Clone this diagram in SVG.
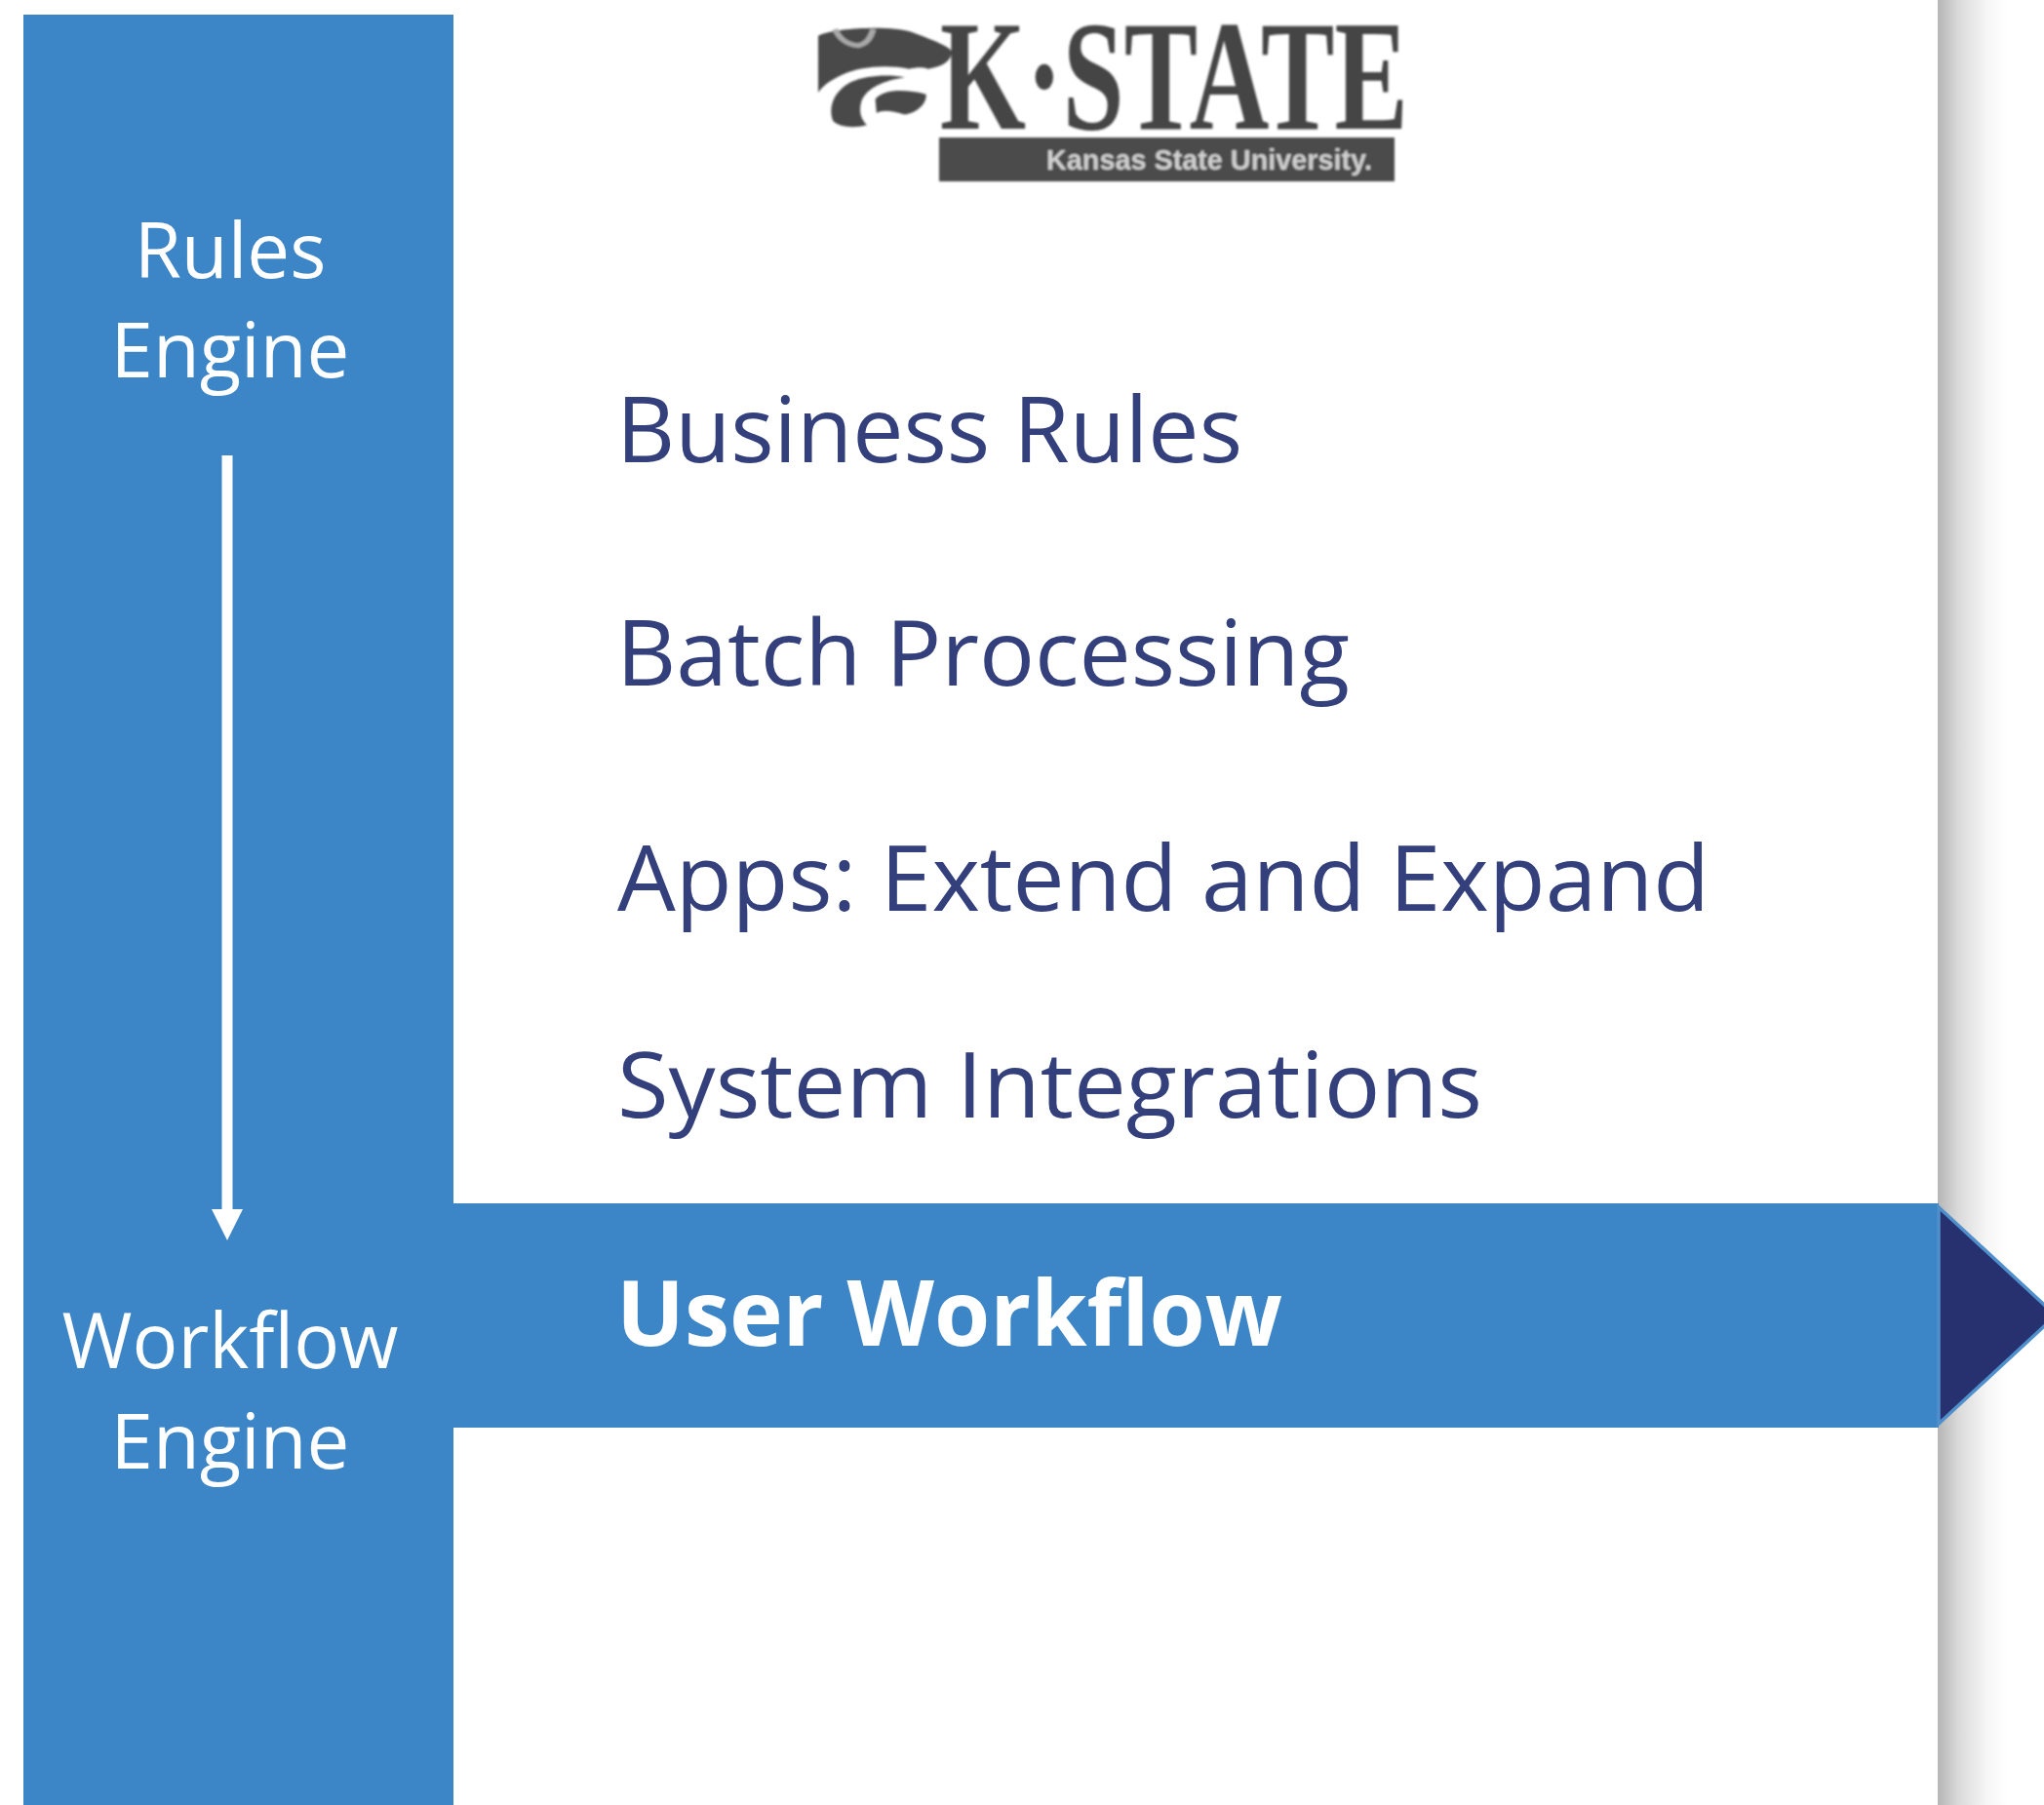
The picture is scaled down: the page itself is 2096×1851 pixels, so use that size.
<svg xmlns="http://www.w3.org/2000/svg" width="2096" height="1851" viewBox="0 0 2096 1851">
<style>
.side{font-family:"Open Sans","Noto Sans",sans-serif;font-size:78px;fill:#fff;text-anchor:middle}
.item{font-family:"Open Sans","Noto Sans",sans-serif;font-size:94px;fill:#34407c}
.bold{font-weight:700;fill:#fff}
</style>
<defs>
<linearGradient id="shade" x1="0" x2="1" y1="0" y2="0">
<stop offset="0" stop-color="#b6b6b6"/><stop offset=".3" stop-color="#dadada"/><stop offset=".7" stop-color="#f6f6f6"/><stop offset="1" stop-color="#fff"/>
</linearGradient>
<filter id="soft" x="-5%" y="-5%" width="110%" height="110%"><feGaussianBlur stdDeviation="1.3"/></filter>
<marker id="head" markerUnits="userSpaceOnUse" markerWidth="32" markerHeight="32" refX="0" refY="16" orient="auto"><path d="M0 0L32 16L0 32Z" fill="#fff"/></marker>
</defs>
<rect width="2096" height="1851" fill="#fff"/>
<rect id="shadow" x="1987" y="0" width="72" height="1851" fill="url(#shade)"/>
<g id="logo" filter="url(#soft)">
<g transform="translate(800 0) scale(.4336 .3333)" fill="#4a4a4a">
<path d="M90 110C130 85 260 78 310 98C350 118 400 140 407 160C402 190 385 205 350 212C335 205 320 208 305 212C250 198 190 205 150 228C120 245 100 265 90 285Z"/>
<path d="M130 90C140 120 160 138 185 140C205 135 215 115 220 90" fill="none" stroke="#a8a8a8" stroke-width="14"/>
<path d="M125 372C112 325 130 278 168 252C205 232 255 228 295 238C245 248 205 270 192 312C186 342 190 365 205 385C175 395 140 392 125 372Z"/>
<path d="M225 305C245 272 300 275 345 290C348 318 322 350 292 352C265 340 240 338 228 348Z"/>
</g>
<text x="964" y="132" font-family="Liberation Serif,serif" font-size="162" font-weight="700" fill="#444" textLength="480" lengthAdjust="spacingAndGlyphs">K·STATE</text>
<rect x="963" y="141" width="467" height="45" fill="#4c4c4c"/>
<text x="1073" y="174" font-family="Liberation Sans,sans-serif" font-size="29" font-weight="700" fill="#d0d0d0" textLength="334" lengthAdjust="spacingAndGlyphs">Kansas State University.</text>
</g>
<g id="rules-engine-workflow-panel"><rect x="24" y="15" width="441" height="1836" fill="#3c85c6"/></g>
<g id="rules-engine"><text class="side" x="236" y="285">Rules</text><text class="side" x="236" y="387">Engine</text></g>
<g id="workflow-engine"><text class="side" x="236" y="1403">Workflow</text><text class="side" x="236" y="1506">Engine</text></g>
<g id="connectors"><line x1="233" y1="467" x2="233" y2="1240" stroke="#fff" stroke-width="11" marker-end="url(#head)"/></g>
<g id="business-rules"><text class="item" x="632" y="474" textLength="642" lengthAdjust="spacingAndGlyphs">Business Rules</text></g>
<g id="batch-processing"><text class="item" x="632" y="703" textLength="752" lengthAdjust="spacingAndGlyphs">Batch Processing</text></g>
<g id="apps"><text class="item" x="633" y="934" textLength="1120" lengthAdjust="spacingAndGlyphs">Apps: Extend and Expand</text></g>
<g id="system-integrations"><text class="item" x="633" y="1146" textLength="887" lengthAdjust="spacingAndGlyphs">System Integrations</text></g>
<g id="user-workflow">
<rect x="465" y="1234" width="1523" height="230" fill="#3c85c6"/>
<path d="M1988 1238L2108 1349L1988 1460Z" fill="#27316f" stroke="#4f8fcb" stroke-width="3.5"/>
<text class="item bold" x="632" y="1380" textLength="683" lengthAdjust="spacingAndGlyphs">User Workflow</text>
</g>
</svg>
